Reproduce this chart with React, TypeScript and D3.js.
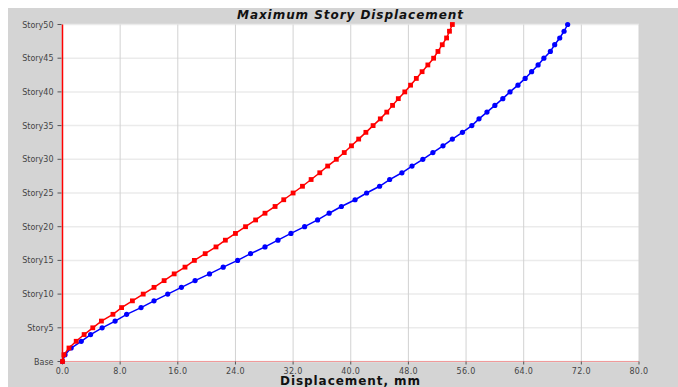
import * as d3 from 'd3'

const W = 678
const H = 387

// story index 0 = Base ... 50 = Story50
const redDisp = [
  0, 0.2, 0.9, 1.9, 3.0, 4.2, 5.4, 7.0, 8.2, 9.7,
  11.2, 12.7, 14.1, 15.5, 17.0, 18.3, 19.8, 21.3, 22.6, 24.0,
  25.4, 26.8, 28.1, 29.5, 30.7, 32.0, 33.3, 34.5, 35.7, 36.8,
  38.0, 39.1, 40.1, 41.1, 42.1, 43.1, 44.1, 45.0, 45.8, 46.6,
  47.5, 48.3, 49.1, 49.9, 50.7, 51.5, 52.1, 52.7, 53.3, 53.7,
  54.1,
]
const blueDisp = [
  0, 0.35, 1.2, 2.6, 3.9, 5.5, 7.3, 8.9, 10.9, 12.7,
  14.6, 16.5, 18.4, 20.4, 22.3, 24.3, 26.1, 28.1, 29.9, 31.7,
  33.6, 35.4, 37.0, 38.7, 40.6, 42.2, 44.0, 45.4, 47.1, 48.5,
  50.0, 51.4, 52.8, 54.1, 55.5, 56.8, 57.8, 58.9, 60.0, 61.1,
  62.1, 63.2, 64.2, 65.1, 66.0, 66.8, 67.7, 68.3, 69.0, 69.6,
  70.1,
]
const xTicks = [0, 8, 16, 24, 32, 40, 48, 56, 64, 72, 80]
const yTicks = [0, 5, 10, 15, 20, 25, 30, 35, 40, 45, 50]
const yTickLabels = ['Base', 'Story5', 'Story10', 'Story15', 'Story20', 'Story25',
  'Story30', 'Story35', 'Story40', 'Story45', 'Story50']

export default function App() {
  const m = { left: 62.5, right: 639, top: 24.5, bottom: 361.5 }
  const x = d3.scaleLinear().domain([0, 80]).range([m.left, m.right])
  const y = d3.scaleLinear().domain([0, 50]).range([m.bottom, m.top])

  const line = d3.line<number>().x(d => x(d)).y((_, i) => y(i))
  const font = '"DejaVu Sans", Verdana, sans-serif'

  return (
    <svg width={W} height={H} style={{ position: 'absolute', left: 0, top: 0 }}>
      <rect x={0} y={0} width={W} height={H} fill="#fff" />
      <rect x={8} y={8} width={W - 8} height={H - 8} fill="#d4d4d4" />
      <rect x={m.left} y={m.top} width={m.right - m.left} height={m.bottom - m.top} fill="#fff" />

      {/* grid */}
      {yTicks.map(t => (
        <line key={'gy' + t} x1={m.left} x2={m.right} y1={y(t)} y2={y(t)}
          stroke="#ebebeb" strokeWidth={1.5} />
      ))}
      {xTicks.map(t => (
        <line key={'gx' + t} x1={x(t)} x2={x(t)} y1={m.top} y2={m.bottom}
          stroke="#d2d2d2" strokeWidth={1} />
      ))}

      {/* axes */}
      <line x1={m.left} x2={m.right} y1={m.bottom} y2={m.bottom} stroke="#f09a9a" strokeWidth={1.2} />
      <line x1={m.left} x2={m.left} y1={m.top} y2={m.bottom} stroke="#ff0000" strokeWidth={1.5} />

      {yTicks.map((t, i) => (
        <g key={'yt' + t}>
          <line x1={m.left - 5} x2={m.left - 1} y1={y(t)} y2={y(t)} stroke="#555" />
          <text x={m.left - 9} y={y(t) + 3} textAnchor="end" fontSize={8}
            fontFamily={font} fill="#444">{yTickLabels[i]}</text>
        </g>
      ))}
      {xTicks.map(t => (
        <g key={'xt' + t}>
          <line x1={x(t)} x2={x(t)} y1={m.bottom} y2={m.bottom + 3} stroke="#555" />
          <text x={x(t)} y={m.bottom + 12} textAnchor="middle" fontSize={8}
            fontFamily={font} fill="#444" letterSpacing={0.3}>{t.toFixed(1)}</text>
        </g>
      ))}

      {/* series */}
      <path d={line(blueDisp) ?? ''} fill="none" stroke="#0000ff" strokeWidth={1.5} />
      {blueDisp.map((d, i) => (
        <circle key={'b' + i} cx={x(d)} cy={y(i)} r={2.6} fill="#0000ff" />
      ))}
      <path d={line(redDisp) ?? ''} fill="none" stroke="#ff0000" strokeWidth={1.5} />
      {redDisp.map((d, i) => (
        <rect key={'r' + i} x={x(d) - 2.4} y={y(i) - 2.4} width={4.8} height={4.8} fill="#ff0000" />
      ))}

      {/* titles */}
      <text x={350} y={19} textAnchor="middle" fontSize={12} fontWeight="bold" fontStyle="italic"
        fontFamily={font} fill="#111" textLength={226} lengthAdjust="spacing">
        Maximum Story Displacement
      </text>
      <text x={350} y={385} textAnchor="middle" fontSize={12} fontWeight="bold"
        fontFamily={font} fill="#111" textLength={140} lengthAdjust="spacing">
        Displacement, mm
      </text>
    </svg>
  )
}
